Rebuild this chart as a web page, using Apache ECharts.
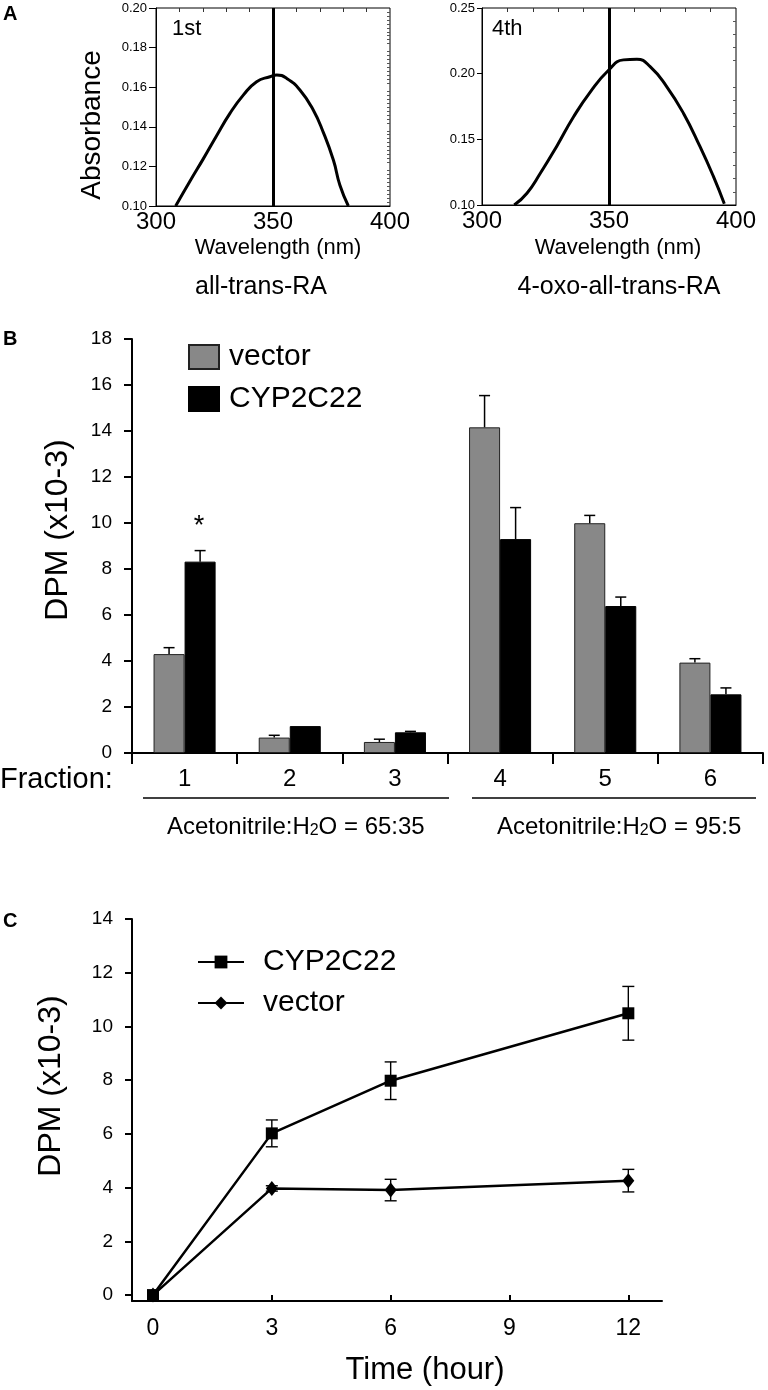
<!DOCTYPE html>
<html><head><meta charset="utf-8">
<script src="https://cdn.jsdelivr.net/npm/echarts@6/dist/echarts.min.js"></script>
<style>html,body{margin:0;padding:0;background:#fff}#c{width:768px;height:1390px}</style>
</head><body><div id="c"></div>
<script>
const FONT = "'Liberation Sans', Arial, Helvetica, sans-serif";

// ---- Panel A: absorbance spectra ----
const wlRA   = [308.4, 314.5, 320.2, 325.9, 331.6, 337.3, 343.0, 348.7, 351.6, 355.8, 361.5, 367.2, 371.5, 375.8, 378.6, 382.2];
const absRA  = [0.100, 0.1125, 0.1238, 0.1355, 0.1468, 0.156, 0.1628, 0.1653, 0.1662, 0.1645, 0.1586, 0.1485, 0.1372, 0.1232, 0.1105, 0.100];
const wlOxo  = [312.7, 317.7, 322.9, 329.5, 336.0, 342.6, 350.0, 355.7, 361.0, 366.2, 372.7, 379.3, 385.8, 391.1, 395.4];
const absOxo = [0.100, 0.109, 0.124, 0.145, 0.167, 0.186, 0.203, 0.2105, 0.211, 0.2054, 0.1902, 0.1699, 0.1446, 0.1218, 0.101];
const markWl = 350;

// ---- Panel B: fractions ----
const fractions = ['1', '2', '3', '4', '5', '6'];
const vectorDPM = [4.30, 0.67, 0.48, 14.16, 9.99, 3.93];
const vectorErr = [0.28, 0.10, 0.12, 1.38, 0.34, 0.17];
const cypDPM    = [8.32, 1.17, 0.90, 9.30, 6.39, 2.55];
const cypErr    = [0.48, 0.00, 0.04, 1.37, 0.39, 0.28];

// ---- Panel C: time course ----
const hours      = [0, 3, 6, 12];
const cypTime    = [0, 6.02, 7.98, 10.49];
const cypTimeErr = [0, 0.50, 0.70, 1.00];
const vecTime    = [0, 3.97, 3.91, 4.26];
const vecTimeErr = [0, 0.10, 0.40, 0.42];
const hourTicks  = [0, 3, 6, 9, 12];
const dpmTicks   = [0, 2, 4, 6, 8, 10, 12, 14];

const chart = echarts.init(document.getElementById('c'), null, {renderer: 'canvas'});
const black = '#000';
const lbl = (size, extra) => Object.assign({color: black, fontSize: size, fontFamily: FONT}, extra || {});

function barErr(values, errs, side) {
  return {
    type: 'custom', xAxisIndex: 2, yAxisIndex: 2, z: 3, silent: true,
    data: values.map((v, i) => [i, v, v + errs[i]]),
    renderItem(params, api) {
      if (api.value(2) - api.value(1) < 0.01) return;
      const i = api.value(0);
      const base = api.coord([i, api.value(1)]);
      const top = api.coord([i, api.value(2)]);
      const band = api.size([1, 0])[0];
      const x = base[0] + side * band * 0.1476;
      const st = {stroke: black, lineWidth: 1.5};
      return {type: 'group', children: [
        {type: 'line', shape: {x1: x, y1: base[1], x2: x, y2: top[1]}, style: st},
        {type: 'line', shape: {x1: x - 5.5, y1: top[1], x2: x + 5.5, y2: top[1]}, style: st}
      ]};
    }
  };
}
function lineErr(xs, vals, errs) {
  return {
    type: 'custom', xAxisIndex: 3, yAxisIndex: 3, z: 1, silent: true,
    data: xs.map((x, i) => [x, vals[i] - errs[i], vals[i] + errs[i]]),
    renderItem(params, api) {
      const lo = api.coord([api.value(0), api.value(1)]);
      const hi = api.coord([api.value(0), api.value(2)]);
      if (lo[1] - hi[1] < 1) return;
      const x = lo[0];
      const st = {stroke: black, lineWidth: 1.4};
      return {type: 'group', children: [
        {type: 'line', shape: {x1: x, y1: lo[1], x2: x, y2: hi[1]}, style: st},
        {type: 'line', shape: {x1: x - 6, y1: hi[1], x2: x + 6, y2: hi[1]}, style: st},
        {type: 'line', shape: {x1: x - 6, y1: lo[1], x2: x + 6, y2: lo[1]}, style: st}
      ]};
    }
  };
}
const noSplit = {show: false};
const lineBlack = (w) => ({show: true, onZero: false, lineStyle: {color: black, width: w}});

const sub = {s: {fontSize: 16, verticalAlign: 'bottom', fontFamily: FONT, color: black}};

const option = {
  animation: false,
  backgroundColor: '#fff',
  textStyle: {fontFamily: FONT},
  grid: [
    {left: 156, top: 8, width: 234, height: 198, show: true, borderColor: black, borderWidth: 1, outerBoundsMode: 'none'},
    {left: 482, top: 8, width: 254, height: 197, show: true, borderColor: black, borderWidth: 1, outerBoundsMode: 'none'},
    {left: 132, top: 339, width: 631, height: 414, outerBoundsMode: 'none'},
    {left: 132, top: 919, width: 530, height: 382, outerBoundsMode: 'none'}
  ],
  xAxis: [
    {gridIndex: 0, type: 'value', min: 300, max: 400, interval: 50, axisLine: lineBlack(1),
     axisTick: {show: false}, splitLine: noSplit, axisLabel: lbl(24, {margin: 4})},
    {gridIndex: 1, type: 'value', min: 300, max: 400, interval: 50, axisLine: lineBlack(1),
     axisTick: {show: false}, splitLine: noSplit, axisLabel: lbl(24, {margin: 4})},
    {gridIndex: 2, type: 'category', data: fractions, axisLine: lineBlack(2),
     axisTick: {show: true, length: 11, lineStyle: {color: black, width: 2}},
     axisLabel: lbl(24, {margin: 14}), splitLine: noSplit},
    {gridIndex: 3, type: 'value', min: -0.53, max: 12.85, axisLine: lineBlack(2),
     axisTick: {show: true, inside: true, length: 6, customValues: hourTicks, lineStyle: {color: black, width: 2}},
     axisLabel: lbl(23, {margin: 16, customValues: hourTicks}), splitLine: noSplit},
    // minor tick axes for panel A
    {gridIndex: 0, type: 'value', min: 300, max: 400, interval: 50, axisLine: {show: false},
     axisTick: {show: false, inside: true}, minorTick: {show: true, splitNumber: 5, length: 4, lineStyle: {color: '#333'}},
     axisLabel: {show: false}, splitLine: noSplit},
    {gridIndex: 1, type: 'value', min: 300, max: 400, interval: 50, axisLine: {show: false},
     axisTick: {show: false, inside: true}, minorTick: {show: true, splitNumber: 5, length: 4, lineStyle: {color: '#333'}},
     axisLabel: {show: false}, splitLine: noSplit}
  ],
  yAxis: [
    {gridIndex: 0, type: 'value', min: 0.10, max: 0.20, interval: 0.02, axisLine: lineBlack(1),
     axisTick: {show: true, length: 7, lineStyle: {color: black}}, splitLine: noSplit,
     axisLabel: lbl(13, {margin: 9, formatter: v => v.toFixed(2)})},
    {gridIndex: 1, type: 'value', min: 0.10, max: 0.25, interval: 0.05, axisLine: lineBlack(1),
     axisTick: {show: true, length: 5, lineStyle: {color: black}}, splitLine: noSplit,
     axisLabel: lbl(13, {margin: 7, formatter: v => v.toFixed(2)})},
    {gridIndex: 2, type: 'value', min: 0, max: 18, interval: 2, axisLine: lineBlack(2),
     axisTick: {show: true, length: 8, lineStyle: {color: black, width: 2}}, splitLine: noSplit,
     axisLabel: lbl(19, {margin: 20})},
    {gridIndex: 3, type: 'value', min: -0.22, max: 14, axisLine: lineBlack(2),
     axisTick: {show: true, length: 7, customValues: dpmTicks, lineStyle: {color: black, width: 2}}, splitLine: noSplit,
     axisLabel: lbl(19, {margin: 19, customValues: dpmTicks})},
    {gridIndex: 0, type: 'value', min: 0.10, max: 0.20, interval: 0.02, axisLine: {show: false},
     axisTick: {show: false, inside: true}, minorTick: {show: true, splitNumber: 10, length: 3, lineStyle: {color: '#555'}},
     axisLabel: {show: false}, splitLine: noSplit},
    {gridIndex: 1, type: 'value', min: 0.10, max: 0.25, interval: 0.05, axisLine: {show: false},
     axisTick: {show: false, inside: true}, minorTick: {show: true, splitNumber: 5, length: 3, lineStyle: {color: '#555'}},
     axisLabel: {show: false}, splitLine: noSplit}
  ],
  legend: [
    {data: ['vector', 'CYP2C22'], left: 183, top: 337, orient: 'vertical', icon: 'rect',
     itemWidth: 30, itemHeight: 24, itemGap: 12, selectedMode: false,
     textStyle: {fontSize: 30, lineHeight: 30, color: black, fontFamily: FONT, padding: [0, 0, 0, 5]}},
    {data: ['timeCYP2C22', 'timeVector'], left: 192, top: 942, orient: 'vertical',
     itemWidth: 46, itemHeight: 16, itemGap: 11, selectedMode: false,
     formatter: n => ({timeCYP2C22: 'CYP2C22', timeVector: 'vector'}[n]),
     textStyle: {fontSize: 30, lineHeight: 30, color: black, fontFamily: FONT, padding: [0, 0, 0, 14]}}
  ],
  series: [
    {type: 'line', name: 'all-trans-RA', xAxisIndex: 0, yAxisIndex: 0, smooth: 0.5, showSymbol: false,
     data: wlRA.map((w, i) => [w, absRA[i]]), lineStyle: {color: black, width: 3},
     markLine: {silent: true, symbol: ['none', 'none'], label: {show: false},
       lineStyle: {color: black, width: 3, type: 'solid'}, data: [{xAxis: markWl}]}},
    {type: 'line', name: '4-oxo-all-trans-RA', xAxisIndex: 1, yAxisIndex: 1, smooth: 0.5, showSymbol: false,
     data: wlOxo.map((w, i) => [w, absOxo[i]]), lineStyle: {color: black, width: 3},
     markLine: {silent: true, symbol: ['none', 'none'], label: {show: false},
       lineStyle: {color: black, width: 3, type: 'solid'}, data: [{xAxis: markWl}]}},
    {type: 'bar', name: 'vector', xAxisIndex: 2, yAxisIndex: 2, data: vectorDPM, barGap: '0%', barCategoryGap: '41%',
     itemStyle: {color: '#888888', borderColor: '#222', borderWidth: 1}},
    {type: 'bar', name: 'CYP2C22', xAxisIndex: 2, yAxisIndex: 2, data: cypDPM, barGap: '0%', barCategoryGap: '41%',
     itemStyle: {color: '#000000', borderColor: '#000', borderWidth: 1}},
    barErr(vectorDPM, vectorErr, -1),
    barErr(cypDPM, cypErr, 1),
    lineErr(hours, cypTime, cypTimeErr),
    lineErr(hours, vecTime, vecTimeErr),
    {type: 'line', name: 'timeCYP2C22', xAxisIndex: 3, yAxisIndex: 3, data: hours.map((h, i) => [h, cypTime[i]]),
     symbol: 'rect', symbolSize: 12, showAllSymbol: true, z: 3,
     lineStyle: {color: black, width: 2.5}, itemStyle: {color: black}},
    {type: 'line', name: 'timeVector', xAxisIndex: 3, yAxisIndex: 3, data: hours.map((h, i) => [h, vecTime[i]]),
     symbol: 'diamond', symbolSize: [12, 15], showAllSymbol: true, z: 4,
     lineStyle: {color: black, width: 2.5}, itemStyle: {color: black}}
  ],
  graphic: {elements: [
    {type: 'text', x: 3, y: 14, style: {text: 'A', font: 'bold 20px ' + FONT, fill: black, verticalAlign: 'middle'}},
    {type: 'text', x: 3, y: 339, style: {text: 'B', font: 'bold 20px ' + FONT, fill: black, verticalAlign: 'middle'}},
    {type: 'text', x: 3, y: 921, style: {text: 'C', font: 'bold 20px ' + FONT, fill: black, verticalAlign: 'middle'}},
    {type: 'text', x: 172, y: 29, style: {text: '1st', font: '22px ' + FONT, fill: black, verticalAlign: 'middle'}},
    {type: 'text', x: 492, y: 29, style: {text: '4th', font: '22px ' + FONT, fill: black, verticalAlign: 'middle'}},
    {type: 'text', x: 92, y: 125, rotation: Math.PI / 2,
     style: {text: 'Absorbance', font: '28px ' + FONT, fill: black, align: 'center', verticalAlign: 'middle'}},
    {type: 'text', x: 278, y: 248, style: {text: 'Wavelength (nm)', font: '22px ' + FONT, fill: black, align: 'center', verticalAlign: 'middle'}},
    {type: 'text', x: 618, y: 248, style: {text: 'Wavelength (nm)', font: '22px ' + FONT, fill: black, align: 'center', verticalAlign: 'middle'}},
    {type: 'text', x: 261, y: 287, style: {text: 'all-trans-RA', font: '25px ' + FONT, fill: black, align: 'center', verticalAlign: 'middle'}},
    {type: 'text', x: 619, y: 287, style: {text: '4-oxo-all-trans-RA', font: '25px ' + FONT, fill: black, align: 'center', verticalAlign: 'middle'}},
    {type: 'text', x: 58, y: 530, rotation: Math.PI / 2,
     style: {text: 'DPM (x10-3)', font: '32px ' + FONT, fill: black, align: 'center', verticalAlign: 'middle'}},
    {type: 'text', x: 199, y: 527, style: {text: '*', font: '27px ' + FONT, fill: black, align: 'center', verticalAlign: 'middle'}},
    {type: 'text', x: 0, y: 780, style: {text: 'Fraction:', font: '29px ' + FONT, fill: black, verticalAlign: 'middle'}},
    {type: 'line', shape: {x1: 143, y1: 798, x2: 449, y2: 798}, style: {stroke: black, lineWidth: 1.5}},
    {type: 'line', shape: {x1: 472, y1: 798, x2: 756, y2: 798}, style: {stroke: black, lineWidth: 1.5}},
    {type: 'text', x: 167, y: 827, style: {text: 'Acetonitrile:H{s|2}O = 65:35', rich: sub, font: '24px ' + FONT, fill: black, verticalAlign: 'middle'}},
    {type: 'text', x: 497, y: 827, style: {text: 'Acetonitrile:H{s|2}O = 95:5', rich: sub, font: '24px ' + FONT, fill: black, verticalAlign: 'middle'}},
    {type: 'text', x: 51, y: 1086, rotation: Math.PI / 2,
     style: {text: 'DPM (x10-3)', font: '32px ' + FONT, fill: black, align: 'center', verticalAlign: 'middle'}},
    {type: 'text', x: 425, y: 1370, style: {text: 'Time (hour)', font: '31px ' + FONT, fill: black, align: 'center', verticalAlign: 'middle'}}
  ]}
};
chart.setOption(option);
</script>
</body></html>
